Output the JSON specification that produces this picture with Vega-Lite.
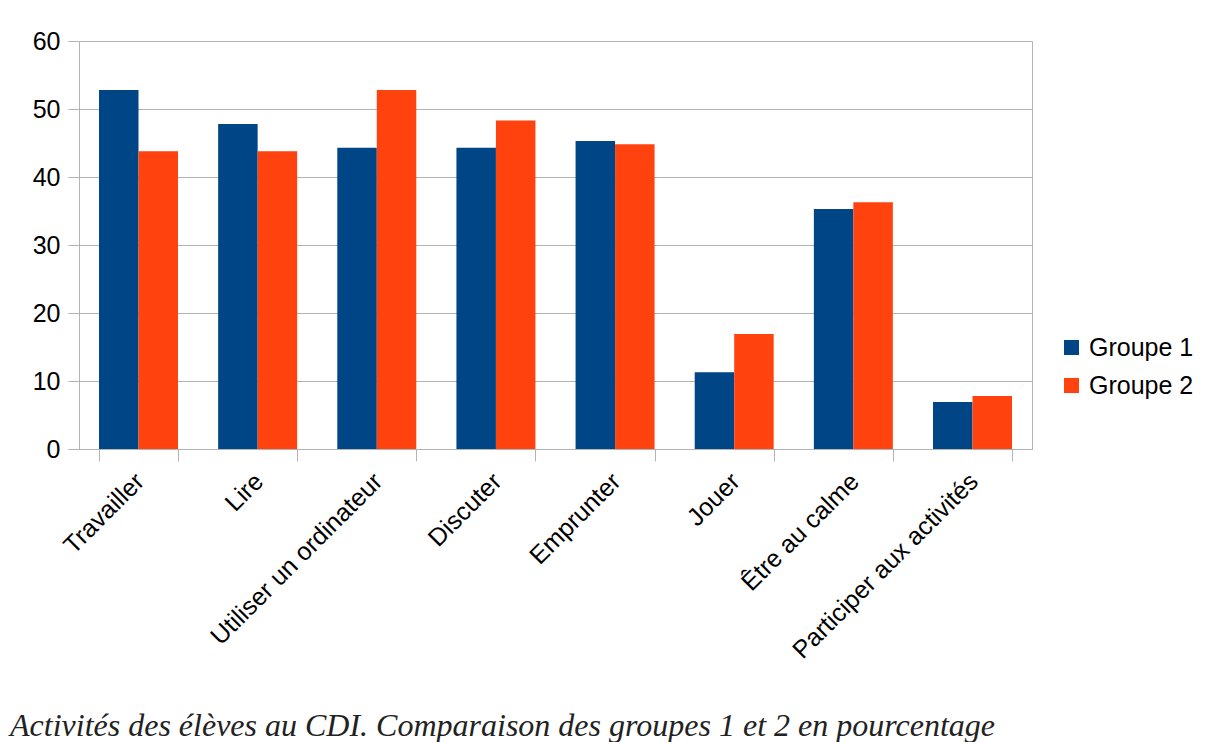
{
  "$schema": "https://vega.github.io/schema/vega-lite/v6.json",
  "width": 953,
  "height": 408,
  "autosize": {"type": "none"},
  "padding": {"left": 79, "top": 41, "right": 174, "bottom": 293},
  "background": "white",
  "data": {
    "values": [
      {"activite": "Travailler", "groupe": "Groupe 1", "valeur": 52.8},
      {"activite": "Travailler", "groupe": "Groupe 2", "valeur": 43.8},
      {"activite": "Lire", "groupe": "Groupe 1", "valeur": 47.8},
      {"activite": "Lire", "groupe": "Groupe 2", "valeur": 43.8},
      {"activite": "Utiliser un ordinateur", "groupe": "Groupe 1", "valeur": 44.3},
      {"activite": "Utiliser un ordinateur", "groupe": "Groupe 2", "valeur": 52.8},
      {"activite": "Discuter", "groupe": "Groupe 1", "valeur": 44.3},
      {"activite": "Discuter", "groupe": "Groupe 2", "valeur": 48.3},
      {"activite": "Emprunter", "groupe": "Groupe 1", "valeur": 45.3},
      {"activite": "Emprunter", "groupe": "Groupe 2", "valeur": 44.8},
      {"activite": "Jouer", "groupe": "Groupe 1", "valeur": 11.3},
      {"activite": "Jouer", "groupe": "Groupe 2", "valeur": 16.9},
      {"activite": "Être au calme", "groupe": "Groupe 1", "valeur": 35.3},
      {"activite": "Être au calme", "groupe": "Groupe 2", "valeur": 36.3},
      {"activite": "Participer aux activités", "groupe": "Groupe 1", "valeur": 6.9},
      {"activite": "Participer aux activités", "groupe": "Groupe 2", "valeur": 7.8}
    ]
  },
  "title": {
    "text": "Activités des élèves au CDI. Comparaison des groupes 1 et 2 en pourcentage",
    "orient": "bottom",
    "anchor": "start",
    "frame": "group",
    "font": "Liberation Serif",
    "fontStyle": "italic",
    "fontWeight": "normal",
    "fontSize": 32,
    "color": "#222222",
    "dx": -69,
    "offset": 48
  },
  "mark": {"type": "bar"},
  "encoding": {
    "x": {
      "field": "activite",
      "type": "nominal",
      "sort": null,
      "scale": {"paddingInner": 0.337, "paddingOuter": 0.168},
      "axis": {
        "title": null,
        "labelAngle": -45,
        "labelAlign": "right",
        "labelBaseline": "middle",
        "labelFont": "Liberation Sans",
        "labelFontSize": 25,
        "labelColor": "#000000",
        "labelLimit": 0,
        "labelPadding": 16,
        "labelOffset": 1,
        "tickBand": "extent",
        "tickSize": 12,
        "tickColor": "#b3b3b3",
        "domainColor": "#b3b3b3",
        "grid": false
      }
    },
    "xOffset": {"field": "groupe", "type": "nominal"},
    "y": {
      "field": "valeur",
      "type": "quantitative",
      "scale": {"domain": [0, 60]},
      "axis": {
        "title": null,
        "values": [0, 10, 20, 30, 40, 50, 60],
        "labelFont": "Liberation Sans",
        "labelFontSize": 25,
        "labelColor": "#000000",
        "labelPadding": 8,
        "tickSize": 11,
        "tickColor": "#b3b3b3",
        "domainColor": "#b3b3b3",
        "gridColor": "#b3b3b3"
      }
    },
    "color": {
      "field": "groupe",
      "type": "nominal",
      "scale": {"domain": ["Groupe 1", "Groupe 2"], "range": ["#004586", "#ff420e"]},
      "legend": {
        "title": null,
        "orient": "none",
        "legendX": 980,
        "legendY": 294,
        "symbolType": "square",
        "symbolSize": 225,
        "symbolStrokeWidth": 0,
        "symbolOpacity": 1,
        "labelFont": "Liberation Sans",
        "labelFontSize": 25,
        "labelColor": "#000000",
        "labelOffset": 5,
        "rowPadding": 12
      }
    }
  },
  "config": {
    "view": {"stroke": "#b3b3b3"}
  }
}
